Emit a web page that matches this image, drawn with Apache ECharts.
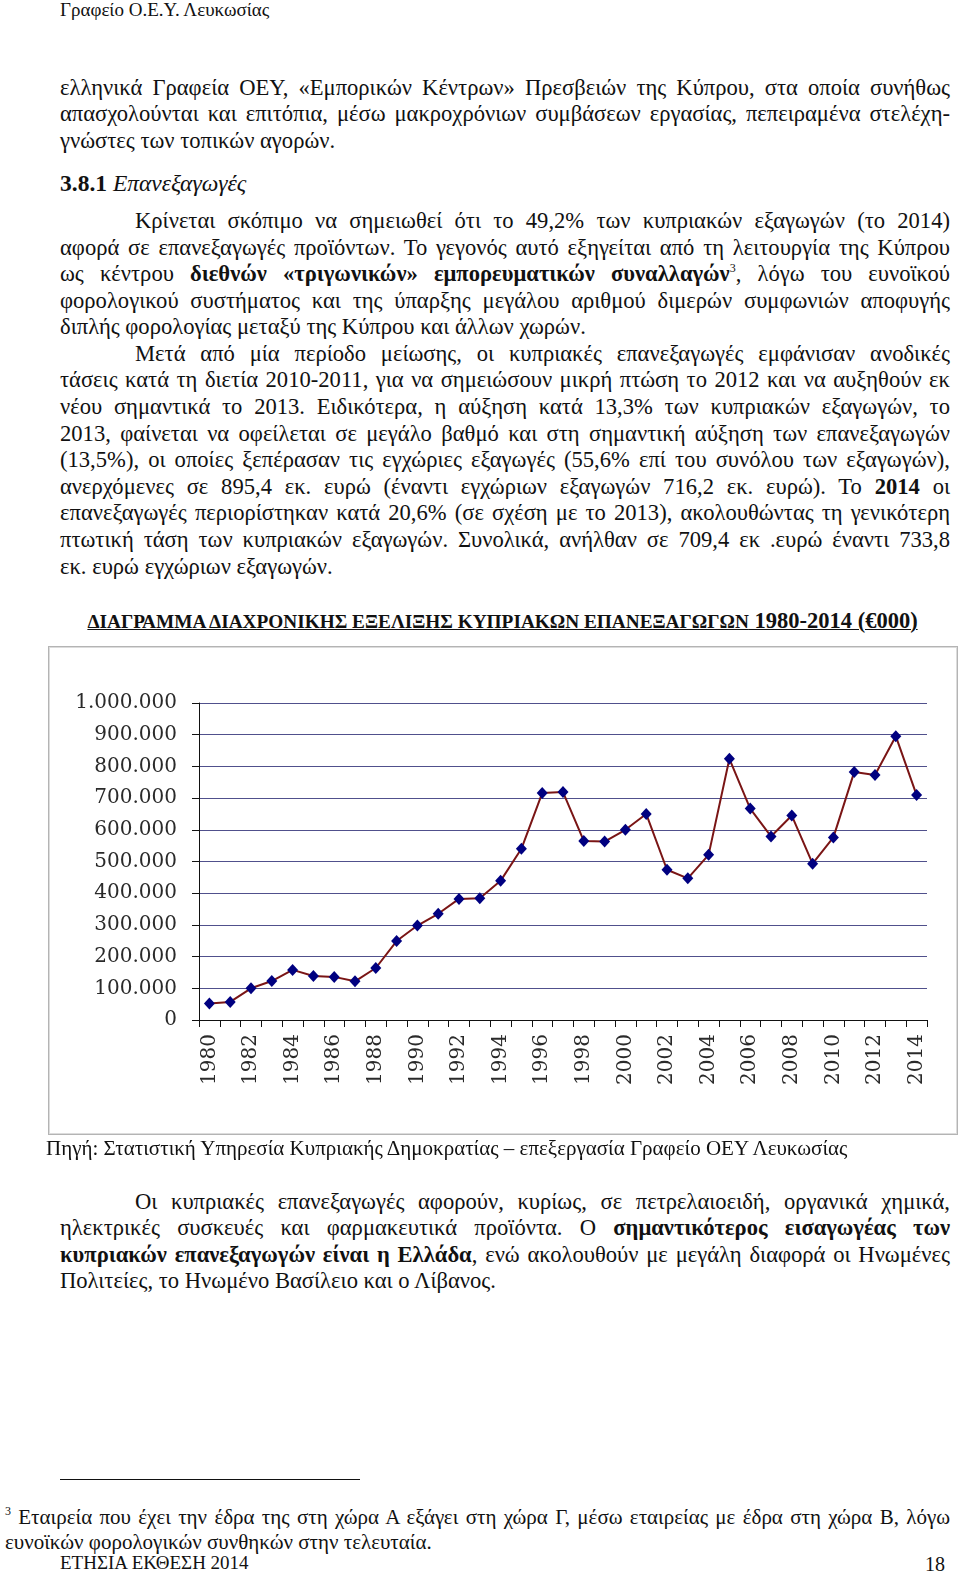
<!DOCTYPE html>
<html>
<head>
<meta charset="utf-8">
<script src="https://cdn.jsdelivr.net/npm/echarts@6/dist/echarts.min.js"></script>
<style>
  html, body { margin:0; padding:0; background:#fff; }
  body { width:960px; height:1573px; position:relative; overflow:hidden;
         font-family:"Liberation Serif","Times New Roman",serif; color:#111; }
  .ln { position:absolute; height:26px; line-height:26px; font-size:22.6px; white-space:nowrap; }
  .j { text-align:justify; text-align-last:justify; }
  .ln sup { font-size:12px; line-height:0; vertical-align:9px; }
  #title { position:absolute; left:0; width:1005px; text-align:center; top:606px; line-height:30px;
           font-weight:bold; text-decoration:underline; white-space:nowrap; }
  #frame { position:absolute; left:48px; top:646px; width:908px; height:487px;
           border:1px solid #b4b4b4; box-shadow:0 0 0 1px #dcdcdc inset; }
  #chart { position:absolute; left:48px; top:646px; width:910px; height:490px; }
</style>
</head>
<body>
<div class="ln" style="left:60px;top:-3px;font-size:19px;">Γραφείο Ο.Ε.Υ. Λευκωσίας</div>

<div class="ln j" style="left:60px;width:890px;top:75px;">ελληνικά Γραφεία ΟΕΥ, «Εμπορικών Κέντρων» Πρεσβειών της Κύπρου, στα οποία συνήθως</div>
<div class="ln j" style="left:60px;width:890px;top:101px;">απασχολούνται και επιτόπια, μέσω μακροχρόνιων συμβάσεων εργασίας, πεπειραμένα στελέχη-</div>
<div class="ln" style="left:60px;top:128px;">γνώστες των τοπικών αγορών.</div>

<div class="ln" style="left:60px;top:170px;font-size:23.5px;"><b>3.8.1</b> <i>Επανεξαγωγές</i></div>

<div class="ln j" style="left:135px;width:815px;top:208px;">Κρίνεται σκόπιμο να σημειωθεί ότι το 49,2% των κυπριακών εξαγωγών (το 2014)</div>
<div class="ln j" style="left:60px;width:890px;top:235px;">αφορά σε επανεξαγωγές προϊόντων. Το γεγονός αυτό εξηγείται από τη λειτουργία της Κύπρου</div>
<div class="ln j" style="left:60px;width:890px;top:261px;">ως κέντρου <b>διεθνών «τριγωνικών» εμπορευματικών συναλλαγών</b><sup>3</sup>, λόγω του ευνοϊκού</div>
<div class="ln j" style="left:60px;width:890px;top:288px;">φορολογικού συστήματος και της ύπαρξης μεγάλου αριθμού διμερών συμφωνιών αποφυγής</div>
<div class="ln" style="left:60px;top:314px;">διπλής φορολογίας μεταξύ της Κύπρου και άλλων χωρών.</div>

<div class="ln j" style="left:135px;width:815px;top:341px;">Μετά από μία περίοδο μείωσης, οι κυπριακές επανεξαγωγές εμφάνισαν ανοδικές</div>
<div class="ln j" style="left:60px;width:890px;top:367px;">τάσεις κατά τη διετία 2010-2011, για να σημειώσουν μικρή πτώση το 2012 και να αυξηθούν εκ</div>
<div class="ln j" style="left:60px;width:890px;top:394px;">νέου σημαντικά το 2013. Ειδικότερα, η αύξηση κατά 13,3% των κυπριακών εξαγωγών, το</div>
<div class="ln j" style="left:60px;width:890px;top:421px;">2013, φαίνεται να οφείλεται σε μεγάλο βαθμό και στη σημαντική αύξηση των επανεξαγωγών</div>
<div class="ln j" style="left:60px;width:890px;top:447px;">(13,5%), οι οποίες ξεπέρασαν τις εγχώριες εξαγωγές (55,6% επί του συνόλου των εξαγωγών),</div>
<div class="ln j" style="left:60px;width:890px;top:474px;">ανερχόμενες σε 895,4 εκ. ευρώ (έναντι εγχώριων εξαγωγών 716,2 εκ. ευρώ). Το <b>2014</b> οι</div>
<div class="ln j" style="left:60px;width:890px;top:500px;">επανεξαγωγές περιορίστηκαν κατά 20,6% (σε σχέση με το 2013), ακολουθώντας τη γενικότερη</div>
<div class="ln j" style="left:60px;width:890px;top:527px;">πτωτική τάση των κυπριακών εξαγωγών. Συνολικά, ανήλθαν σε 709,4 εκ .ευρώ έναντι 733,8</div>
<div class="ln" style="left:60px;top:554px;">εκ. ευρώ εγχώριων εξαγωγών.</div>

<div id="title"><span style="font-size:19.3px;">ΔΙΑΓΡΑΜΜΑ ΔΙΑΧΡΟΝΙΚΗΣ ΕΞΕΛΙΞΗΣ ΚΥΠΡΙΑΚΩΝ ΕΠΑΝΕΞΑΓΩΓΩΝ</span><span style="font-size:22.5px;"> 1980-2014 (€000)</span></div>

<div id="frame"></div>
<div id="chart"></div>

<div class="ln" style="left:46px;top:1135px;font-size:21px;">Πηγή: Στατιστική Υπηρεσία Κυπριακής Δημοκρατίας – επεξεργασία Γραφείο ΟΕΥ Λευκωσίας</div>

<div class="ln j" style="left:135px;width:815px;top:1189px;">Οι κυπριακές επανεξαγωγές αφορούν, κυρίως, σε πετρελαιοειδή, οργανικά χημικά,</div>
<div class="ln j" style="left:60px;width:890px;top:1215px;">ηλεκτρικές συσκευές και φαρμακευτικά προϊόντα. Ο <b>σημαντικότερος εισαγωγέας των</b></div>
<div class="ln j" style="left:60px;width:890px;top:1242px;"><b>κυπριακών επανεξαγωγών είναι η Ελλάδα</b>, ενώ ακολουθούν με μεγάλη διαφορά οι Ηνωμένες</div>
<div class="ln" style="left:60px;top:1268px;">Πολιτείες, το Ηνωμένο Βασίλειο και ο Λίβανος.</div>

<div style="position:absolute;left:60px;top:1479px;width:300px;height:1px;background:#111;"></div>
<div class="ln j" style="left:5px;width:945px;top:1504px;font-size:21px;"><sup>3</sup> Εταιρεία που έχει την έδρα της στη χώρα Α εξάγει στη χώρα Γ, μέσω εταιρείας με έδρα στη χώρα Β, λόγω</div>
<div class="ln" style="left:5px;top:1529px;font-size:21px;">ευνοϊκών φορολογικών συνθηκών στην τελευταία.</div>
<div class="ln" style="left:60px;top:1550px;font-size:19px;">ΕΤΗΣΙΑ ΕΚΘΕΣΗ 2014</div>
<div class="ln" style="left:915px;width:30px;text-align:right;top:1551px;font-size:20px;">18</div>

<script>
// ---- data ----
var years = ['1980','1981','1982','1983','1984','1985','1986','1987','1988','1989',
             '1990','1991','1992','1993','1994','1995','1996','1997','1998','1999',
             '2000','2001','2002','2003','2004','2005','2006','2007','2008','2009',
             '2010','2011','2012','2013','2014'];
var reexports = [52000, 57000, 100000, 123000, 158000, 139000, 136000, 122000, 164000, 249000,
                 298000, 335000, 382000, 384000, 439000, 540000, 716000, 719000, 565000, 563000,
                 600000, 650000, 474000, 447000, 521000, 824000, 667000, 579000, 645000, 493000,
                 576000, 782000, 773000, 895400, 709400];
var yTickLabels = ['0','100.000','200.000','300.000','400.000','500.000',
                   '600.000','700.000','800.000','900.000','1.000.000'];

var chart = echarts.init(document.getElementById('chart'), null, {renderer:'canvas'});
var labelFont = {fontFamily:'DejaVu Serif', fontSize:20, color:'#2a2a2a'};
chart.setOption({
  animation:false,
  grid:{left:151, top:57, width:728, height:317, containLabel:false},
  xAxis:{
    type:'category', data:years, boundaryGap:true,
    axisLine:{show:true, lineStyle:{color:'#111', width:1}},
    axisTick:{show:true, interval:0, length:7, lineStyle:{color:'#111'}},
    axisLabel:Object.assign({interval:1, rotate:90, margin:14}, labelFont),
    splitLine:{show:false}
  },
  yAxis:{
    type:'value', min:0, max:1000000, interval:100000,
    axisLine:{show:true, lineStyle:{color:'#111', width:1}},
    axisTick:{show:true, length:7, lineStyle:{color:'#111'}},
    axisLabel:Object.assign({margin:22, formatter:function(v){ return yTickLabels[Math.round(v/100000)]; }}, labelFont),
    splitLine:{show:true, lineStyle:{color:'#50508c', width:1}}
  },
  series:[{
    type:'line', data:reexports,
    lineStyle:{color:'#7a1515', width:2},
    symbol:'diamond', symbolSize:[11,12],
    itemStyle:{color:'#000080'}
  }]
});
</script>
</body>
</html>
